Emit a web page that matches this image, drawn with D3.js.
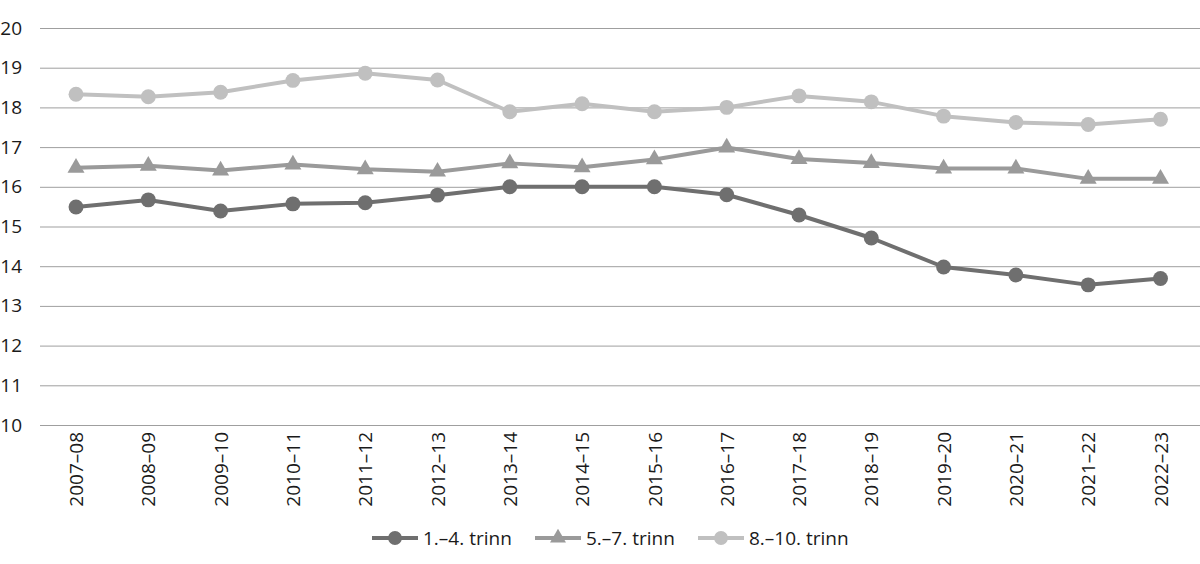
<!DOCTYPE html>
<html>
<head>
<meta charset="utf-8">
<script src="https://cdn.jsdelivr.net/npm/d3@7"></script>
<style>
  html, body { margin: 0; padding: 0; background: #fff; }
  svg { display: block; font-family: "Open Sans", "Noto Sans", sans-serif; }
</style>
</head>
<body>
<svg id="chart" width="1200" height="564"></svg>
<script>
const categories = ["2007–08","2008–09","2009–10","2010–11","2011–12","2012–13","2013–14","2014–15","2015–16","2016–17","2017–18","2018–19","2019–20","2020–21","2021–22","2022–23"];
const seriesNames = ["1.–4. trinn","5.–7. trinn","8.–10. trinn"];
const trinn1_4 = [15.49,15.67,15.39,15.57,15.6,15.79,16.0,16.0,16.0,15.8,15.29,14.71,13.98,13.78,13.53,13.69];
const trinn5_7 = [16.48,16.53,16.41,16.56,16.44,16.38,16.59,16.49,16.69,16.99,16.7,16.6,16.46,16.46,16.2,16.2];
const trinn8_10 = [18.33,18.27,18.38,18.68,18.86,18.69,17.89,18.09,17.89,18.0,18.29,18.14,17.78,17.62,17.57,17.7];
const yTicks = [10,11,12,13,14,15,16,17,18,19,20];

const colors = ["#6f6f6f","#9a9a9a","#c0c0c0"];
const symbols = [d3.symbolCircle, d3.symbolTriangle, d3.symbolCircle];
const seriesData = [trinn1_4, trinn5_7, trinn8_10];

const svg = d3.select("#chart");
const x = d3.scalePoint().domain(categories).range([76, 1160.5]);
const y = d3.scaleLinear().domain([10, 20]).range([425, 28]);

// gridlines
svg.append("g").selectAll("line").data(yTicks).join("line")
  .attr("x1", 40).attr("x2", 1200)
  .attr("y1", d => y(d) + 0.5).attr("y2", d => y(d) + 0.5)
  .attr("stroke", "#9f9f9f").attr("stroke-width", 1);

// y axis labels
const yAxis = d3.axisLeft(y).tickValues(yTicks).tickSize(0).tickPadding(0);
const gy = svg.append("g").attr("transform", "translate(22,0)").call(yAxis);
gy.select(".domain").remove();
gy.selectAll("text").attr("font-size", 19).attr("fill", "#1a1a1a")
  .attr("font-family", "'Open Sans','Noto Sans',sans-serif");

// x axis labels
const xAxis = d3.axisBottom(x).tickSize(0).tickPadding(0);
const gx = svg.append("g").attr("transform", "translate(0,425)").call(xAxis);
gx.select(".domain").remove();
gx.selectAll("text")
  .attr("font-size", 19).attr("fill", "#1a1a1a")
  .attr("font-family", "'Open Sans','Noto Sans',sans-serif")
  .attr("transform", "rotate(-90)")
  .attr("text-anchor", "end")
  .attr("x", -7).attr("y", 0).attr("dy", "0.35em");

// lines
const line = d3.line().x((d, i) => x(categories[i])).y(d => y(d));
seriesData.forEach((vals, s) => {
  svg.append("path").datum(vals)
    .attr("d", line).attr("fill", "none")
    .attr("stroke", colors[s]).attr("stroke-width", 4)
    .attr("stroke-linejoin", "round");
  svg.append("g").selectAll("path").data(vals).join("path")
    .attr("d", d3.symbol().type(symbols[s]).size(s === 1 ? 125 : 175))
    .attr("transform", (d, i) => `translate(${x(categories[i])},${y(d)})`)
    .attr("fill", colors[s]);
});

// legend
const legendX = [372, 535, 698];
const legendY = 538;
const lg = svg.append("g");
seriesNames.forEach((name, s) => {
  const g = lg.append("g").attr("transform", `translate(${legendX[s]},${legendY})`);
  g.append("line").attr("x1", 0).attr("x2", 46).attr("y1", 0).attr("y2", 0)
    .attr("stroke", colors[s]).attr("stroke-width", 4);
  g.append("path").attr("d", d3.symbol().type(symbols[s]).size(s === 1 ? 110 : 150)())
    .attr("transform", "translate(23,0)").attr("fill", colors[s]);
  g.append("text").attr("x", 51).attr("y", 0).attr("dy", "0.35em")
    .attr("font-size", 19).attr("fill", "#1a1a1a").text(name);
});
</script>
</body>
</html>
